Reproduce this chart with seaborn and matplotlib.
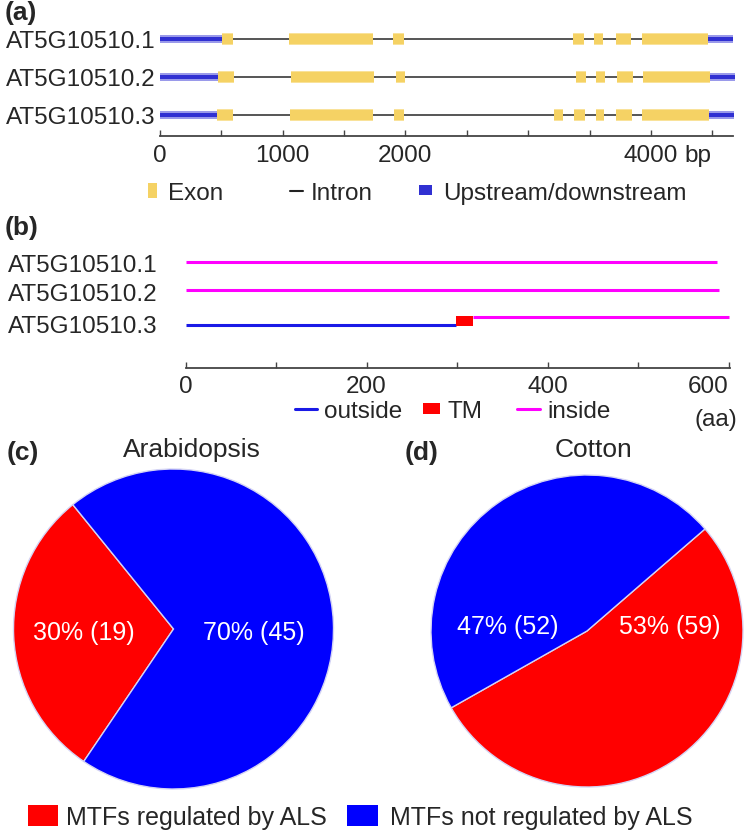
import numpy as np
import matplotlib
matplotlib.use("Agg")
import matplotlib.pyplot as plt
import seaborn as sns
from matplotlib.lines import Line2D
from matplotlib.patches import Patch

# =================== Dados ===================
transcripts = ["AT5G10510.1", "AT5G10510.2", "AT5G10510.3"]

# (a) estrutura dos genes (bp)
utr5_end = [507, 477, 464]
utr3_start = [4468, 4481, 4473]
gene_end = [4671, 4685, 4677]
exon_starts = [
    [505, 1055, 1902, 3367, 3539, 3713, 3925],
    [472, 1069, 1922, 3388, 3552, 3727, 3938],
    [464, 1061, 1911, 3213, 3376, 3549, 3716, 3930],
]
exon_ends = [
    [594, 1734, 1989, 3457, 3612, 3838, 4468],
    [608, 1745, 1998, 3472, 3626, 3852, 4481],
    [600, 1740, 1990, 3287, 3463, 3621, 3843, 4473],
]
bp_ticks = [0, 500, 1000, 1500, 2000, 2500, 3000, 3500, 4000, 4500]
bp_ticklabels = ["0", "", "1000", "", "2000", "", "", "", "4000", ""]

# (b) topologia (aa)
inside_segs = [[(0, 587)], [(0, 589)], [(318, 600)]]
outside_segs = [[], [], [(0, 299)]]
tm_segs = [[], [], [(299, 318)]]
aa_ticks = [0, 100, 200, 300, 400, 500, 600]
aa_ticklabels = ["0", "", "200", "", "400", "", "600"]

# (c)/(d) pizzas
species = ["Arabidopsis", "Cotton"]
regulated = [19, 59]
not_regulated = [45, 52]
pie_labels = ["MTFs regulated by ALS", "MTFs not regulated by ALS"]

# =================== Estilo ===================
W, H = 744, 837
RED, BLUE = "#ff0000", "#0000ff"
EXON_OUT, EXON_IN = "#f9e29a", "#f5d264"
UTR_OUT, UTR_IN = "#9a9aea", "#3030d2"
MAGENTA, LINEBLUE = "#ff00ff", "#1a1ae6"

sns.set_theme(style="white")
plt.rcParams["font.family"] = ["Liberation Sans", "DejaVu Sans"]
FS = 17.5

fig = plt.figure(figsize=(W / 100, H / 100), dpi=100)


def px_axes(left, top, width, height):
    return fig.add_axes([left / W, 1 - (top + height) / H, width / W, height / H])


def key(handle, label, x, y, hl, hh=0.7, pad=0.3, fs=FS):
    fig.legend([handle], [label], loc="center left", bbox_to_anchor=(x / W, 1 - y / H),
               frameon=False, borderpad=0, borderaxespad=0, handlelength=hl,
               handleheight=hh, handletextpad=pad, fontsize=fs)


# =================== (a) ===================
ax = px_axes(159.7, 20, 4750 * 0.1228, 117)
rows = np.arange(len(transcripts))
for i in rows:
    ax.hlines(i, utr5_end[i], utr3_start[i], color="#383838", lw=1.2, zorder=1)
    for left, right in [(0, utr5_end[i]), (utr3_start[i], gene_end[i])]:
        ax.barh(i, right - left, left=left, height=0.2, color=UTR_OUT, lw=0, zorder=2)
        ax.barh(i, right - left, left=left, height=0.12, color=UTR_IN, lw=0, zorder=3)
    s = np.array(exon_starts[i])
    e = np.array(exon_ends[i])
    ax.barh([i] * len(s), e - s, left=s, height=0.3, color=EXON_OUT, lw=0, zorder=4)
    ax.barh([i] * len(s), e - s, left=s, height=0.24, color=EXON_IN, lw=0, zorder=5)

ax.set_xlim(0, 4750)
ax.set_ylim(2.553, -0.526)
ax.set_yticks(rows)
ax.set_yticklabels(transcripts)
ax.set_xticks(bp_ticks)
ax.set_xticklabels(bp_ticklabels)
sns.despine(ax=ax, left=True)
ax.spines["bottom"].set_bounds(0, 4671)
ax.spines["bottom"].set_color("#444444")
ax.spines["bottom"].set_linewidth(1.3)
ax.tick_params(axis="x", direction="in", length=4.5, width=1, color="#444444",
               pad=6, labelsize=FS, bottom=True)
ax.tick_params(axis="y", length=0, pad=3, labelsize=FS)
ax.annotate("bp", xy=(4000, 0), xycoords=("data", "axes fraction"), xytext=(24, -6),
            textcoords="offset points", ha="left", va="top", fontsize=FS)
ax.patch.set_alpha(0)

key(Patch(color=EXON_IN, lw=0), "Exon", 148, 194, hl=0.37, hh=0.55, pad=0.45)
key(Line2D([], [], color="#222222", lw=1.5), "Intron", 290, 194, hl=0.55, pad=0.3)
key(Patch(color=UTR_IN, lw=0), "Upstream/downstream", 419, 194, hl=0.53, hh=0.22, pad=0.45)

# =================== (b) ===================
bx = px_axes(185.5, 245, 615 * 0.905, 124)
for i in rows:
    for a, b in inside_segs[i]:
        bx.hlines(i, a, b, color=MAGENTA, lw=2.2)
    for a, b in outside_segs[i]:
        bx.hlines(i + 0.29, a, b, color=LINEBLUE, lw=2.2)
    for a, b in tm_segs[i]:
        bx.barh(i + 0.145, b - a, left=a, height=0.36, color=RED, lw=0, zorder=3)
bx.set_xlim(0, 615)
bx.set_ylim(3.855, -0.655)
bx.set_yticks([0, 1.09, 2.25])
bx.set_yticklabels(transcripts)
bx.set_xticks(aa_ticks)
bx.set_xticklabels(aa_ticklabels)
bx.get_xticklabels()[-1].set_horizontalalignment("right")
sns.despine(ax=bx, left=True)
bx.spines["bottom"].set_bounds(0, 602)
bx.spines["bottom"].set_color("#444444")
bx.spines["bottom"].set_linewidth(1.3)
bx.tick_params(axis="x", direction="in", length=4.5, width=1, color="#444444",
               pad=5, labelsize=FS, bottom=True)
bx.tick_params(axis="y", length=0, pad=20, labelsize=FS)
bx.patch.set_alpha(0)

key(Line2D([], [], color=LINEBLUE, lw=2.2), "outside", 295, 412, hl=0.9, pad=0.3)
key(Patch(color=RED, lw=0), "TM", 423, 412, hl=0.7, hh=0.35, pad=0.3)
key(Line2D([], [], color=MAGENTA, lw=2.2), "inside", 517, 412, hl=0.95, pad=0.3)
fig.text(716 / W, 1 - 420 / H, "(aa)", ha="center", va="center", fontsize=FS)

# =================== (c) e (d) ===================
pie_boxes = [(173.5, 630, 160), (587, 632, 156)]
start_angles = [129, 209.5]
label_xy = [[(-0.56, -0.02), (0.5, -0.02)], [(0.53, 0.03), (-0.51, 0.03)]]
for k, sp in enumerate(species):
    cx, cy, r = pie_boxes[k]
    half = 1.05 * r
    pax = px_axes(cx - half, cy - half, 2 * half, 2 * half)
    vals = [regulated[k], not_regulated[k]]
    pax.pie(vals, colors=[RED, BLUE], startangle=start_angles[k], counterclock=True,
            wedgeprops=dict(edgecolor="#d4d4f4", linewidth=1))
    pax.set_xlim(-1.05, 1.05)
    pax.set_ylim(-1.05, 1.05)
    tot = sum(vals)
    for v, (tx, ty) in zip(vals, label_xy[k]):
        pax.text(tx, ty, f"{round(100 * v / tot)}% ({v})", color="white",
                 ha="center", va="center", fontsize=18)

fig.text(192 / W, 1 - 450 / H, "Arabidopsis", ha="center", va="center", fontsize=19)
fig.text(593 / W, 1 - 450 / H, "Cotton", ha="center", va="center", fontsize=19)

key(Patch(color=RED, lw=0), pie_labels[0], 27.5, 818, hl=1.2, hh=0.92, pad=0.36, fs=18)
key(Patch(color=BLUE, lw=0), pie_labels[1], 347, 818, hl=1.25, hh=0.92, pad=0.46, fs=18)

# letras dos paineis
for lab, x, y in [("(a)", 5, 13), ("(b)", 5, 228), ("(c)", 7, 453), ("(d)", 405, 453)]:
    fig.text(x / W, 1 - y / H, lab, ha="left", va="center", fontsize=19, fontweight="bold")

fig.savefig("out.png", dpi=100)
